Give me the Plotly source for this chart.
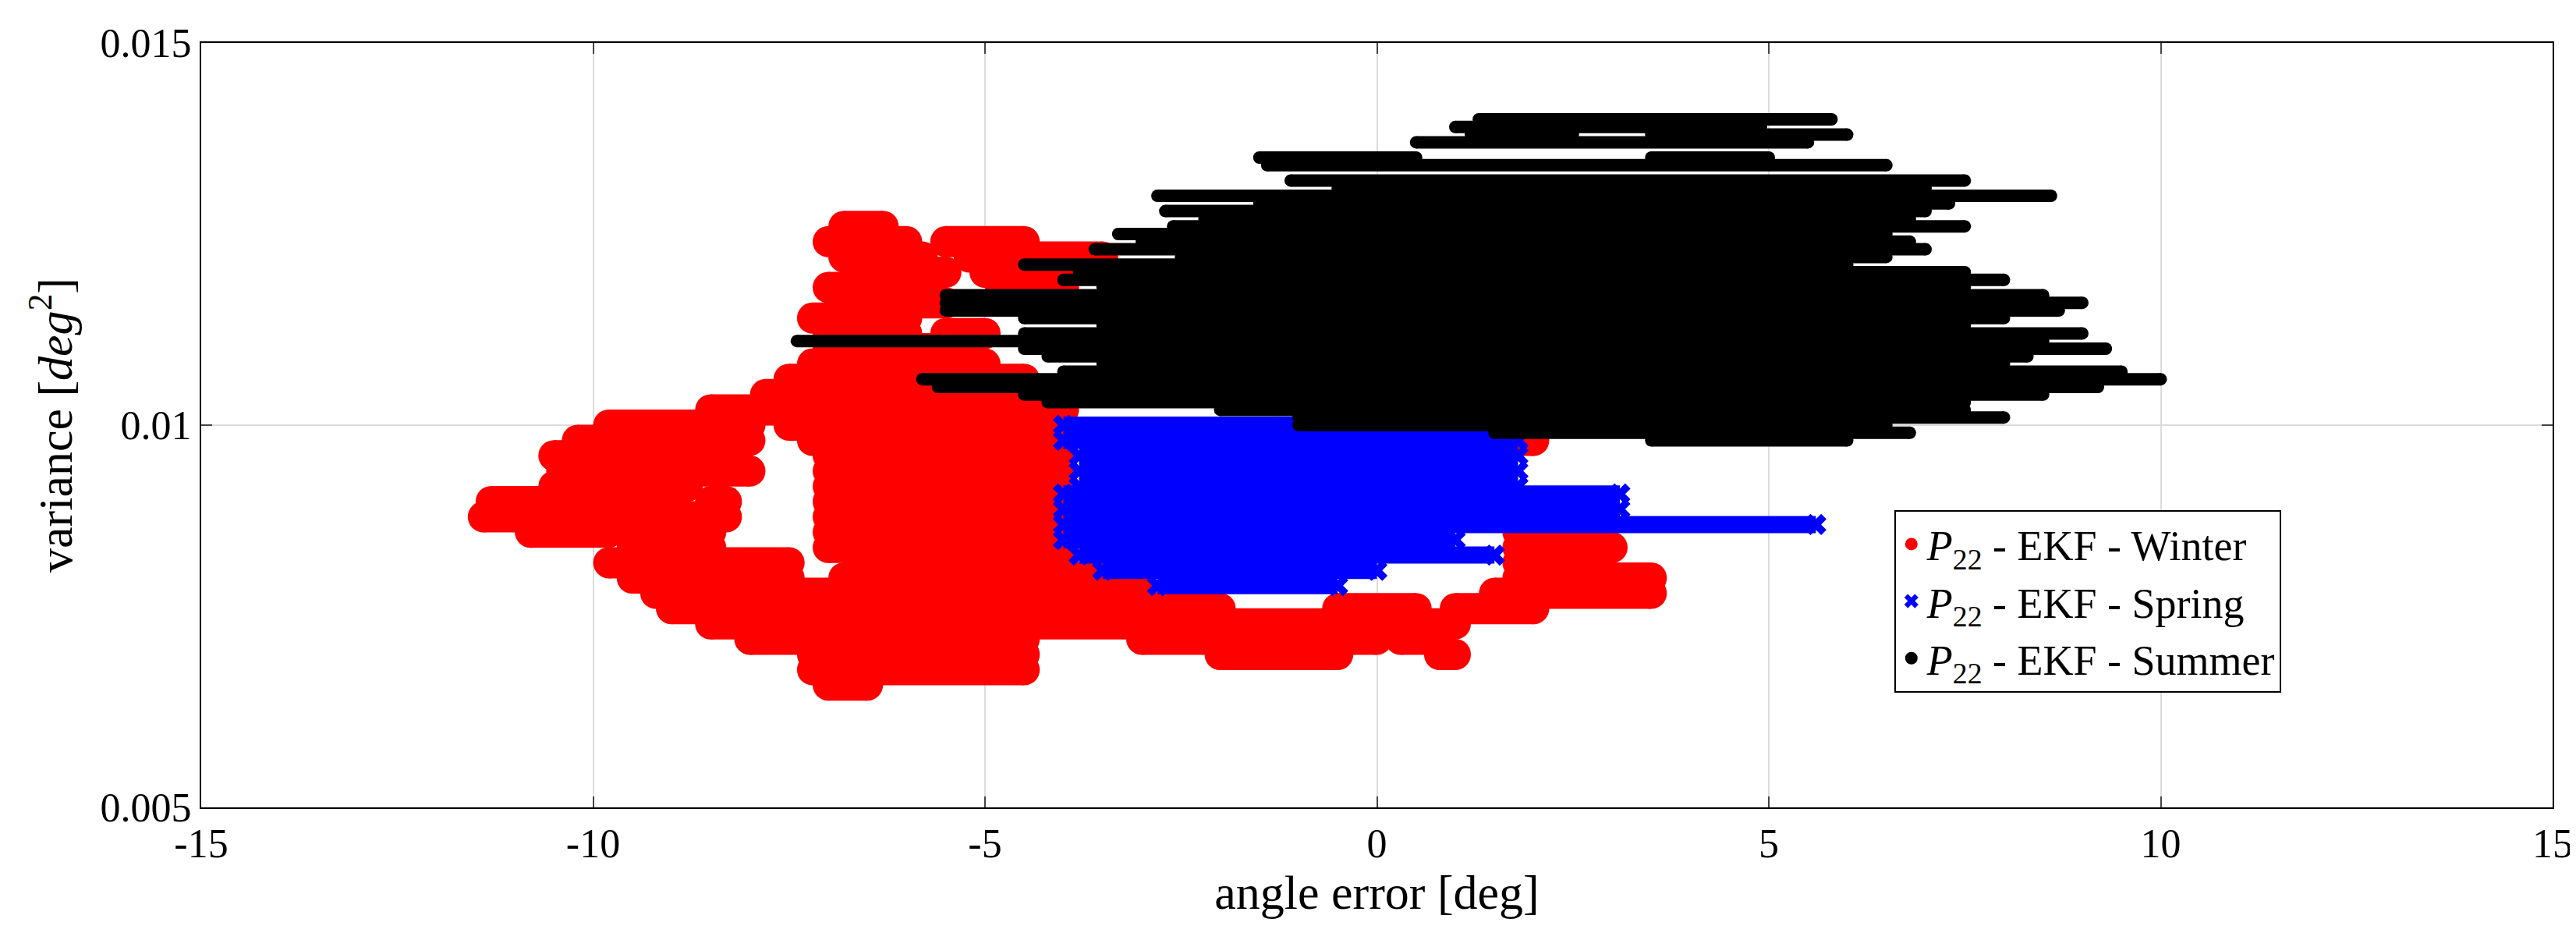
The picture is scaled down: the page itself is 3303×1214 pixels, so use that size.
import plotly.graph_objects as go

# rows: (variance, x_start, x_end)
winter_rows = [
(0.0126,-6.8,-6.3),(0.0124,-7.0,-6.0),(0.0124,-5.5,-4.5),(0.0122,-6.8,-5.8),(0.0122,-5.2,-3.5),
(0.0120,-6.6,-5.5),(0.0120,-5.0,-4.0),(0.0118,-7.0,-5.8),(0.0118,-4.8,-4.0),(0.0116,-6.8,-5.5),
(0.0114,-7.2,-6.0),(0.0112,-7.0,-6.0),(0.0112,-5.5,-5.0),(0.0110,-7.0,-5.5),(0.0108,-7.2,-5.0),
(0.0106,-7.5,-4.5),(0.0104,-7.8,-4.2),(0.0102,-8.5,-4.0),(0.0100,-9.8,-8.0),(0.0100,-7.5,-4.0),
(0.0100,1.5,2.0),(0.0098,-10.2,-8.0),(0.0098,-7.2,-4.0),(0.0098,1.5,2.0),(0.0096,-10.5,-9.0),
(0.0096,-7.0,-4.0),(0.0094,-10.4,-8.0),(0.0094,-7.0,-4.0),(0.0092,-10.5,-8.8),(0.0092,-7.0,-4.0),
(0.0090,-11.3,-9.5),(0.0090,-8.5,-8.3),(0.0090,-7.0,-4.0),(0.0088,-11.4,-10.0),(0.0088,-9.6,-8.3),
(0.0088,-7.0,-4.0),(0.0086,-10.8,-9.8),(0.0086,-9.5,-8.5),(0.0086,-7.0,-4.0),(0.0086,1.8,2.5),
(0.0084,-9.5,-8.5),(0.0084,-7.0,-4.0),(0.0084,1.8,3.0),(0.0082,-9.8,-7.5),(0.0082,-6.5,-4.0),
(0.0082,1.8,2.8),(0.0080,-9.5,-7.5),(0.0080,-6.8,-3.5),(0.0080,1.8,3.5),(0.0078,-9.2,-6.5),
(0.0078,-6.0,-3.0),(0.0078,1.5,3.5),(0.0076,-9.0,-2.0),(0.0076,-0.5,0.5),(0.0076,1.0,2.0),
(0.0074,-8.5,-3.0),(0.0074,-2.5,1.0),(0.0072,-8.0,-4.5),(0.0072,-3.0,0.0),(0.0072,0.3,0.7),
(0.0070,-7.2,-4.5),(0.0070,-2.0,-0.5),(0.0070,0.8,1.0),(0.0068,-7.2,-4.5),(0.0066,-7.0,-6.5),
]
spring_rows = [
(0.0100,-4.0,1.5),(0.0098,-4.0,1.8),(0.0096,-3.8,1.8),(0.0094,-3.8,1.8),(0.0092,-3.8,1.8),
(0.0091,-4.0,3.1),(0.0089,-4.0,3.1),(0.0087,-4.0,5.6),(0.0085,-4.0,1.0),(0.0083,-3.8,1.5),
(0.0081,-3.5,0.0),(0.0079,-2.8,-0.5),
]
summer_rows = [
(0.0140,1.3,5.8),(0.0139,1.0,4.9),(0.0138,1.2,2.5),(0.0138,3.5,6.0),(0.0137,0.5,5.5),
(0.0135,-1.5,0.5),(0.0135,3.5,5.0),(0.0134,-1.4,6.5),(0.0132,-1.1,7.5),(0.0131,-0.5,7.0),
(0.0130,-2.8,8.6),(0.0129,-1.5,7.3),(0.0128,-2.7,7.0),(0.0127,-2.2,6.8),(0.0126,-2.6,7.5),
(0.0125,-3.3,6.5),(0.0124,-3.0,6.8),(0.0123,-3.6,7.0),(0.0122,-2.5,6.5),(0.0121,-4.5,6.0),
(0.0120,-3.8,7.5),(0.0119,-4.0,8.0),(0.0118,-3.5,7.5),(0.0117,-5.5,8.5),(0.0116,-5.5,9.0),
(0.0115,-5.5,8.7),(0.0114,-4.5,8.0),(0.0113,-3.5,7.5),(0.0112,-4.5,9.0),(0.0111,-7.4,8.5),
(0.0110,-4.5,9.3),(0.0109,-4.2,8.3),(0.0108,-3.5,8.0),(0.0107,-4.0,9.5),(0.0106,-5.8,10.0),
(0.0105,-5.6,9.2),(0.0104,-4.5,8.5),(0.0103,-4.2,7.5),(0.0102,-2.0,7.5),(0.0101,-1.0,8.0),
(0.0100,-1.0,6.5),(0.0099,1.5,6.8),(0.0098,3.5,6.0),
]
x_ticks = [-15, -10, -5, 0, 5, 10, 15]
x_tick_labels = ["-15", "-10", "-5", "0", "5", "10", "15"]
y_ticks = [0.005, 0.01, 0.015]
y_tick_labels = ["0.005", "0.01", "0.015"]

def seg(rows):
    xs, ys = [], []
    for y, a, b in rows:
        xs += [a, b, None]; ys += [y, y, None]
    return xs, ys

fig = go.Figure()
styles = [
    (winter_rows, "#ff0000", 40, 40, "circle", 20, "Winter"),
    (spring_rows, "#0000ff", 22, 24, "x", 17, "Spring"),
    (summer_rows, "#000000", 16, 16, "circle", 8, "Summer"),
]
for rows, c, lw, ms, sym, lms, name in styles:
    xs, ys = seg(rows)
    fig.add_trace(go.Scatter(x=xs, y=ys, mode="lines+markers", showlegend=False,
        line=dict(color=c, width=lw), marker=dict(color=c, size=ms, symbol=sym, line=dict(width=0))))
for rows, c, lw, ms, sym, lms, name in styles:
    fig.add_trace(go.Scatter(x=[None], y=[None], mode="markers", name=f"<i>P</i><sub>22</sub> - EKF - {name}",
        marker=dict(color=c, size=lms*2, symbol=sym, line=dict(width=0))))

font = "Liberation Serif"
fig.update_layout(
    width=3303, height=1214, plot_bgcolor="white", paper_bgcolor="white",
    margin=dict(l=250, r=32, t=47, b=187),
    font=dict(family=font, size=52, color="black"),
    legend=dict(x=0.72, y=0.389, xanchor="left", yanchor="top", bgcolor="white",
                bordercolor="black", borderwidth=2, font=dict(size=54), itemsizing="trace",
                tracegroupgap=4),
    xaxis=dict(range=[-15, 15], tickvals=x_ticks, ticktext=x_tick_labels, showgrid=True,
               gridcolor="#dcdcdc", gridwidth=2,
               zeroline=False, showline=True, linecolor="black", linewidth=2, mirror="ticks",
               ticks="inside", ticklen=14, tickwidth=2,
               title=dict(text="angle error [deg]", standoff=8)),
    yaxis=dict(range=[0.005, 0.015], tickvals=y_ticks, ticktext=y_tick_labels, showgrid=True,
               gridcolor="#dcdcdc", gridwidth=2, zeroline=False, showline=True, linecolor="black",
               linewidth=2, mirror="ticks", ticks="inside", ticklen=14, tickwidth=2,
               title=dict(text="variance [<i>deg</i><sup>2</sup>]", standoff=16)),
)
fig.write_html("out.html")
